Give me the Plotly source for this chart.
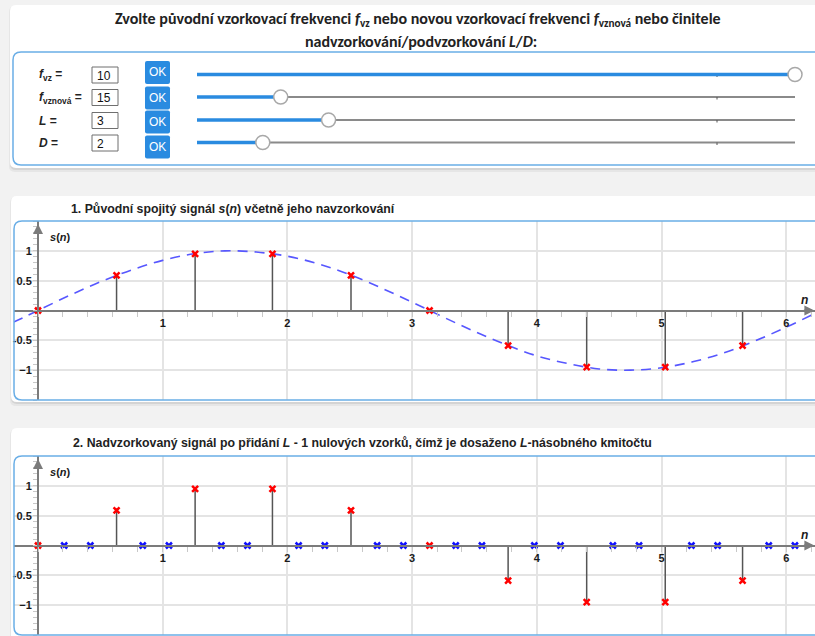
import plotly.graph_objects as go

# ---------------- data ----------------
sample_n = [0.00, 0.63, 1.26, 1.88, 2.51, 3.14, 3.77, 4.40, 5.03, 5.65]
sample_s = [0.00, 0.59, 0.95, 0.95, 0.59, 0.00, -0.59, -0.95, -0.95, -0.59]

zero_n = [0.21, 0.42, 0.84, 1.05, 1.47, 1.68, 2.09, 2.30, 2.72, 2.93,
          3.35, 3.56, 3.98, 4.19, 4.61, 4.82, 5.24, 5.45, 5.86, 6.07]
zero_s = [0.0, 0.0, 0.0, 0.0, 0.0, 0.0, 0.0, 0.0, 0.0, 0.0,
          0.0, 0.0, 0.0, 0.0, 0.0, 0.0, 0.0, 0.0, 0.0, 0.0]

curve_n = [-0.20, 0.00, 0.25, 0.50, 0.75, 1.00, 1.25, 1.50, 1.75, 2.00, 2.25, 2.50, 2.75,
           3.00, 3.25, 3.50, 3.75, 4.00, 4.25, 4.50, 4.75, 5.00, 5.25, 5.50, 5.75, 6.00, 6.25]
curve_s = [-0.20, 0.00, 0.25, 0.48, 0.68, 0.84, 0.95, 1.00, 0.98, 0.91, 0.78, 0.60, 0.38,
           0.14, -0.11, -0.35, -0.57, -0.76, -0.89, -0.98, -1.00, -0.96, -0.86, -0.71, -0.51, -0.28, -0.03]

x_tick_vals = [1, 2, 3, 4, 5, 6]
x_tick_text = ["1", "2", "3", "4", "5", "6"]
y_tick_vals = [-1, -0.5, 0.5, 1]
y_tick_text = ["\u22121", "-0.5", "0.5", "1"]

param_labels = ["<i>f</i><sub>vz</sub> =", "<i>f</i><sub>vznová</sub> =", "<i>L</i> =", "<i>D</i> ="]
param_values = ["10", "15", "3", "2"]
slider_fraction = [1.00, 0.14, 0.22, 0.11]

title_line1 = ("Zvolte původní vzorkovací frekvenci <i>f</i><sub>vz</sub> nebo novou vzorkovací "
               "frekvenci <i>f</i><sub>vznová</sub> nebo činitele")
title_line2 = "nadvzorkování/podvzorkování <i>L</i>/<i>D</i>:"
chart1_title = "1. Původní spojitý signál <i>s</i>(<i>n</i>) včetně jeho navzorkování"
chart2_title = ("2. Nadvzorkovaný signál po přidání <i>L</i> - 1 nulových vzorků, čímž je dosaženo "
                "<i>L</i>-násobného kmitočtu")

# ---------------- layout helpers (pixels -> paper) ----------------
W, H = 815, 636


def X(p):
    return p / W


def Y(p):
    return 1 - p / H


def rrect_path(x0, y0, x1, y1, r):
    pts = [("M", [(x0 + r, y0)]), ("L", [(x1 - r, y0)]), ("Q", [(x1, y0), (x1, y0 + r)]),
           ("L", [(x1, y1 - r)]), ("Q", [(x1, y1), (x1 - r, y1)]), ("L", [(x0 + r, y1)]),
           ("Q", [(x0, y1), (x0, y1 - r)]), ("L", [(x0, y0 + r)]), ("Q", [(x0, y0), (x0 + r, y0)])]
    s = ""
    for cmd, ps in pts:
        s += cmd + " " + " ".join(f"{X(a):.5f},{Y(b):.5f}" for a, b in ps) + " "
    return s + "Z"


shapes = []
annotations = []


def panel(x0, y0, x1, y1):
    shapes.append(dict(type="path", xref="paper", yref="paper", layer="below",
                       path=rrect_path(x0 - 1, y0 + 1, x1, y1 + 4, 6),
                       fillcolor="#e6e6e6", line=dict(width=0)))
    shapes.append(dict(type="path", xref="paper", yref="paper", layer="below",
                       path=rrect_path(x0, y0 + 1, x1, y1 + 2, 6),
                       fillcolor="#d4d4d4", line=dict(width=0)))
    shapes.append(dict(type="path", xref="paper", yref="paper", layer="below",
                       path=rrect_path(x0, y0, x1, y1, 6),
                       fillcolor="white", line=dict(width=0)))


def inner_box(x0, y0, x1, y1):
    shapes.append(dict(type="path", xref="paper", yref="paper", layer="above",
                       path=rrect_path(x0, y0, x1, y1, 8),
                       fillcolor="rgba(0,0,0,0)", line=dict(width=1.5, color="#6aaee6")))


def text(px, py, s, size=12, color="#222", family="Liberation Sans, Arial", xanchor="center"):
    annotations.append(dict(x=X(px), y=Y(py), xref="paper", yref="paper", text=s, showarrow=False,
                            xanchor=xanchor, yanchor="middle",
                            font=dict(size=size, color=color, family=family)))


# panels
panel(10, 5, 830, 168)
panel(11, 196, 830, 402)
panel(11, 428, 840, 660)
inner_box(13, 52, 830, 165)
inner_box(14, 221, 830, 400)
inner_box(14, 456, 830, 635)

TITLE_FONT = "Carlito, Liberation Sans Narrow, Open Sans, Liberation Sans"
text(418, 20, "<b>" + title_line1 + "</b>", size=16, family=TITLE_FONT)
text(421, 42, "<b>" + title_line2 + "</b>", size=16, family=TITLE_FONT)
text(233, 209, "<b>" + chart1_title + "</b>", size=12.3)
text(362, 443, "<b>" + chart2_title + "</b>", size=12.3)

# controls
row_y = [75, 97.5, 120.5, 143]
btn_y = [72.5, 98, 122, 147]
track_x0, track_x1 = 197, 795
for i in range(4):
    y = row_y[i]
    text(37, y, "<b>" + param_labels[i] + "</b>", size=12, xanchor="left")
    shapes.append(dict(type="rect", xref="paper", yref="paper", x0=X(92), x1=X(118),
                       y0=Y(y - 8), y1=Y(y + 8), fillcolor="white",
                       line=dict(color="#6f6f6f", width=1)))
    text(95, y + 0.5, param_values[i], size=12, color="#111", xanchor="left")
    by = btn_y[i]
    shapes.append(dict(type="path", xref="paper", yref="paper",
                       path=rrect_path(145, by - 11.5, 170, by + 11.5, 2),
                       fillcolor="#2a8be0", line=dict(width=0)))
    text(157.5, by, "OK", size=12, color="white")
    # slider
    ty = row_y[i] - 0.5
    kx = track_x0 + slider_fraction[i] * (track_x1 - track_x0)
    shapes.append(dict(type="line", xref="paper", yref="paper", x0=X(track_x0), x1=X(track_x1),
                       y0=Y(ty), y1=Y(ty), line=dict(color="#8a8a8a", width=2)))
    shapes.append(dict(type="line", xref="paper", yref="paper", x0=X(717), x1=X(717),
                       y0=Y(ty), y1=Y(ty + 2.5), line=dict(color="#555", width=1)))
    shapes.append(dict(type="line", xref="paper", yref="paper", x0=X(track_x0), x1=X(kx),
                       y0=Y(ty), y1=Y(ty), line=dict(color="#2a8be0", width=3.5)))
    shapes.append(dict(type="circle", xref="paper", yref="paper", x0=X(kx - 7), x1=X(kx + 7),
                       y0=Y(ty + 7), y1=Y(ty - 7), fillcolor="white",
                       line=dict(color="#a8a8a8", width=1.5)))

# ---------------- chart axes ----------------
X_ZERO_PX, X_UNIT = 38, 124.7
box_left, box_right = 14, 815
x_range = [(box_left - X_ZERO_PX) / X_UNIT, (box_right - X_ZERO_PX) / X_UNIT]
x_dom = [X(box_left), 1]
y_range = [-1.5, 1.5]
y_dom1 = [Y(400), Y(221)]
y_dom2 = [Y(635), Y(456)]
y_axis_pos = x_dom[0] + (0 - x_range[0]) / (x_range[1] - x_range[0]) * (x_dom[1] - x_dom[0])

minor_x = [round(k * 0.2, 2) for k in range(-1, 33)]
minor_y = [round(k * 0.1, 2) for k in range(-15, 16)]
TICK_FONT = dict(family="Liberation Sans, Arial", size=11, color="#1a1a1a")
AX_COLOR = "#7b7b7b"
GRID = "#e4e4e4"


def xaxis(ydom):
    return dict(domain=x_dom, range=x_range, anchor="free", position=(ydom[0] + ydom[1]) / 2,
                tickmode="array", tickvals=x_tick_vals, ticktext=["<b>%s</b>" % t for t in x_tick_text],
                ticks="outside", ticklen=2, tickcolor="rgba(0,0,0,0)", tickfont=TICK_FONT,
                showgrid=True, gridcolor=GRID, gridwidth=1.5, zeroline=False,
                showline=True, linecolor=AX_COLOR, linewidth=2,
                minor=dict(tickmode="array", tickvals=minor_x, ticks="outside", ticklen=5,
                           tickcolor="#c8c8c8", tickwidth=1, showgrid=False),
                fixedrange=True, automargin=False)


def yaxis(ydom):
    return dict(domain=ydom, range=y_range, anchor="free", position=y_axis_pos,
                tickmode="array", tickvals=y_tick_vals, ticktext=["<b>%s</b>" % t for t in y_tick_text],
                ticks="outside", ticklen=3, tickcolor="rgba(0,0,0,0)", tickfont=TICK_FONT,
                showgrid=True, gridcolor=GRID, gridwidth=1.5, zeroline=False,
                showline=True, linecolor=AX_COLOR, linewidth=2,
                minor=dict(tickmode="array", tickvals=minor_y, ticks="outside", ticklen=4,
                           tickcolor="#c8c8c8", tickwidth=1, showgrid=False),
                fixedrange=True, automargin=False)


def stems(ns, ss):
    xs, ys = [], []
    for n, s in zip(ns, ss):
        xs += [n, n, None]
        ys += [0, s, None]
    return xs, ys


fig = go.Figure()

# chart 1
fig.add_trace(go.Scatter(x=curve_n, y=curve_s, mode="lines", xaxis="x", yaxis="y",
                         line=dict(color="#5757ff", width=1.6, dash="10px,7px", shape="spline"),
                         hoverinfo="skip"))
sx, sy = stems(sample_n, sample_s)
fig.add_trace(go.Scatter(x=sx, y=sy, mode="lines", xaxis="x", yaxis="y",
                         line=dict(color="#555555", width=1.5), hoverinfo="skip"))
fig.add_trace(go.Scatter(x=sample_n, y=sample_s, mode="markers", xaxis="x", yaxis="y",
                         marker=dict(symbol="x-thin", size=6, line=dict(width=2.5, color="#ff0000"))))

# chart 2
fig.add_trace(go.Scatter(x=sx, y=sy, mode="lines", xaxis="x2", yaxis="y2",
                         line=dict(color="#555555", width=1.5), hoverinfo="skip"))
fig.add_trace(go.Scatter(x=zero_n, y=zero_s, mode="markers", xaxis="x2", yaxis="y2",
                         marker=dict(symbol="x-thin", size=6, line=dict(width=2.5, color="#1010ff"))))
fig.add_trace(go.Scatter(x=sample_n, y=sample_s, mode="markers", xaxis="x2", yaxis="y2",
                         marker=dict(symbol="x-thin", size=6, line=dict(width=2.5, color="#ff0000"))))

# axis arrows and labels
for xr, yr in (("x", "y"), ("x2", "y2")):
    annotations.append(dict(xref=xr, yref=yr, x=x_range[1] - 0.005, y=0, ax=-12, ay=0, text="",
                            showarrow=True, arrowhead=2, arrowsize=1, arrowwidth=2, arrowcolor=AX_COLOR))
    annotations.append(dict(xref=xr, yref=yr, x=0, y=1.45, ax=0, ay=12, text="",
                            showarrow=True, arrowhead=2, arrowsize=1, arrowwidth=2, arrowcolor=AX_COLOR))
    annotations.append(dict(xref=xr, yref=yr, x=0.08, y=1.24, text="<b><i>s</i>(<i>n</i>)</b>",
                            showarrow=False, xanchor="left", yanchor="middle",
                            font=dict(family="Liberation Sans, Arial", size=11, color="#1a1a1a")))
    annotations.append(dict(xref=xr, yref=yr, x=6.15, y=0.18, text="<b><i>n</i></b>",
                            showarrow=False, xanchor="center", yanchor="middle",
                            font=dict(family="Liberation Sans, Arial", size=12, color="#1a1a1a")))

fig.update_layout(
    width=W, height=H, margin=dict(l=0, r=0, t=0, b=0, pad=0),
    paper_bgcolor="#f2f2f2", plot_bgcolor="rgba(0,0,0,0)", showlegend=False,
    xaxis=xaxis(y_dom1), yaxis=yaxis(y_dom1),
    xaxis2=xaxis(y_dom2), yaxis2=yaxis(y_dom2),
    shapes=shapes, annotations=annotations, hovermode=False,
)

fig.write_html("out.html", config={"displayModeBar": False},
               post_script="document.body.style.margin='0';document.body.style.overflow='hidden';")
